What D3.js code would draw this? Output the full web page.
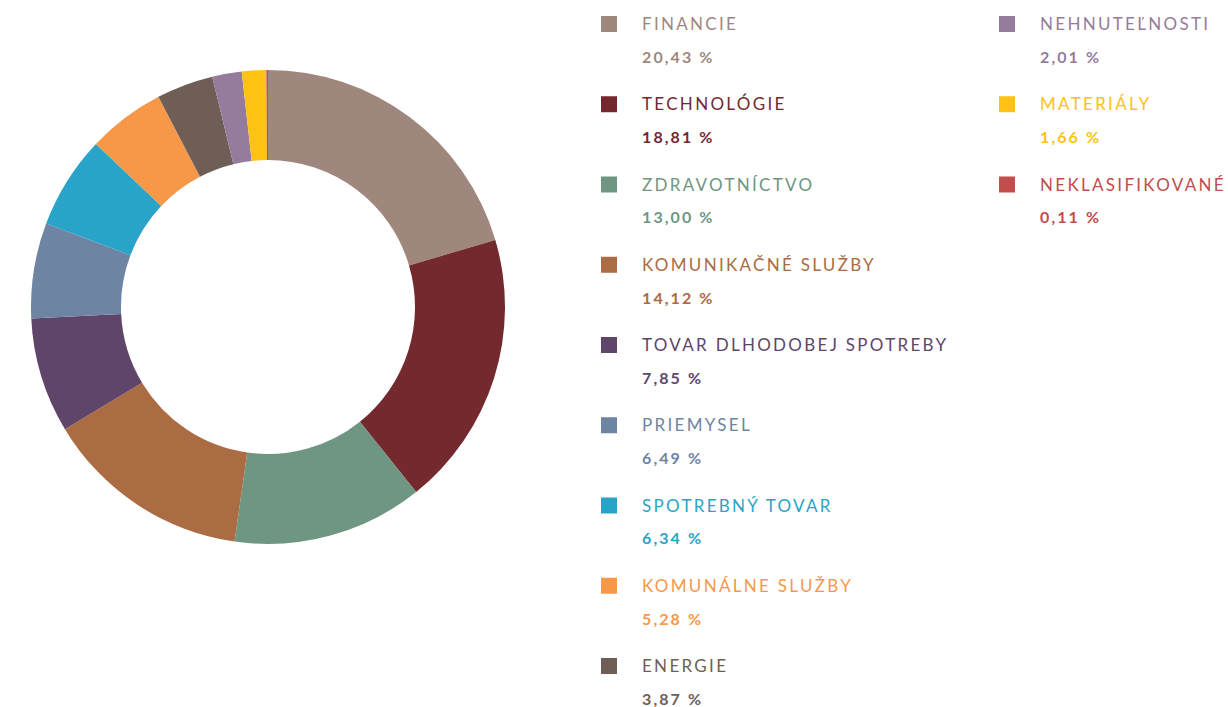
<!DOCTYPE html>
<html>
<head>
<meta charset="UTF-8">
<title>Sektorové rozdelenie</title>
<script src="https://cdn.jsdelivr.net/npm/d3@7"></script>
<style>
  html, body { margin: 0; padding: 0; background: #fff; }
  svg { display: block; }
  .lbl { font: 400 17px "Lato", sans-serif; letter-spacing: 2.3px; }
  .val { font: 700 16px "Lato", sans-serif; letter-spacing: 2.1px; }
</style>
</head>
<body>
<svg width="1228" height="707"></svg>
<script>
// sectors, clockwise from 12 o'clock
var sectors = ["FINANCIE", "TECHNOLÓGIE", "ZDRAVOTNÍCTVO", "KOMUNIKAČNÉ SLUŽBY",
  "TOVAR DLHODOBEJ SPOTREBY", "PRIEMYSEL", "SPOTREBNÝ TOVAR", "KOMUNÁLNE SLUŽBY",
  "ENERGIE", "NEHNUTEĽNOSTI", "MATERIÁLY", "NEKLASIFIKOVANÉ"];
var shares = [20.43, 18.81, 13.00, 14.12, 7.85, 6.49, 6.34, 5.28, 3.87, 2.01, 1.66, 0.11];
var colorsList = ["#a0877d", "#74292e", "#6e9682", "#ab6b43", "#60456b", "#6e84a3",
  "#2aa3c8", "#f79849", "#6f5e56", "#957c9c", "#fdc212", "#c24d4c"];

var svg = d3.select("svg");

var color = d3.scaleOrdinal().domain(sectors).range(colorsList);
var fmt = function (v) { return d3.format(".2f")(v).replace(".", ",") + " %"; };

var data = sectors.map(function (s, i) { return { name: s, value: shares[i] }; });

// donut
var pie = d3.pie().sort(null).value(function (d) { return d.value; });
var arc = d3.arc().innerRadius(147).outerRadius(237);

svg.append("g")
    .attr("transform", "translate(268,307)")
  .selectAll("path")
  .data(pie(data))
  .enter()
  .append("path")
    .attr("d", arc)
    .attr("fill", function (d) { return color(d.data.name); });

// legend: 9 rows in first column, rest in second
var perCol = 9;
var rowY = d3.scaleLinear().domain([0, perCol - 1]).range([24, 666]);
var colX = [601, 999];

var item = svg.append("g").selectAll("g")
  .data(data)
  .enter()
  .append("g")
    .attr("transform", function (d, i) {
      return "translate(" + colX[Math.floor(i / perCol)] + "," + rowY(i % perCol) + ")";
    });

item.append("rect")
    .attr("x", 0).attr("y", -8)
    .attr("width", 16).attr("height", 16)
    .attr("fill", function (d) { return color(d.name); });

item.append("text")
    .attr("class", "lbl")
    .attr("x", 41).attr("y", 0)
    .attr("dy", "0.36em")
    .attr("fill", function (d) { return color(d.name); })
    .text(function (d) { return d.name; });

item.append("text")
    .attr("class", "val")
    .attr("x", 41).attr("y", 33)
    .attr("dy", "0.36em")
    .attr("fill", function (d) { return color(d.name); })
    .text(function (d) { return fmt(d.value); });
</script>
</body>
</html>
